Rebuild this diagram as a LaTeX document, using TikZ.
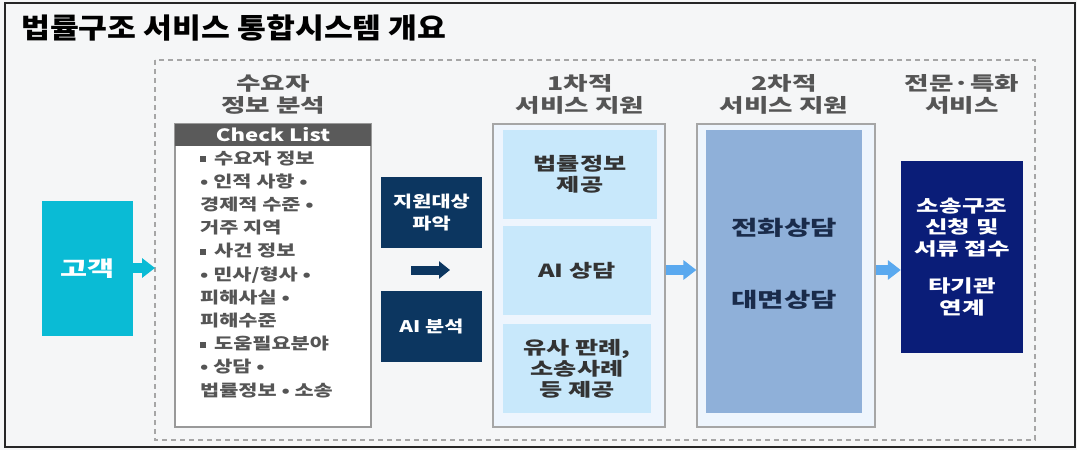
\documentclass[tikz,border=0pt]{standalone}
\usepackage{fontspec}
\setmainfont{Noto Sans CJK KR}
\newfontfamily\krt[FakeStretch=1.12]{Noto Sans CJK KR}
\newfontfamily\krw[FakeStretch=1.4]{Noto Sans CJK KR}
\newfontfamily\krc[FakeStretch=1.3]{Noto Sans CJK KR}
\usetikzlibrary{arrows.meta}
\definecolor{bg}{HTML}{F5F6F7}
\definecolor{cyanbox}{HTML}{0ABBD5}
\definecolor{hdrgray}{HTML}{5A5A5A}
\definecolor{txtgray}{HTML}{555555}
\definecolor{navybox}{HTML}{0C3660}
\definecolor{paleblue}{HTML}{EEF5FD}
\definecolor{innerblue}{HTML}{C8E8FB}
\definecolor{midblue}{HTML}{8FB0D9}
\definecolor{royal}{HTML}{0A1D78}
\definecolor{arrblue}{HTML}{5AA9EF}
\definecolor{darktxt}{HTML}{1A2B4A}
\newcommand{\sqb}{\raisebox{0.2ex}{\rule{6pt}{6pt}}\hspace{8pt}}
\tikzset{
  box/.style={draw=none, inner sep=0pt, align=center},
  header/.style={inner sep=0pt, align=center, text=txtgray, font=\krw\bfseries\fontsize{19}{22}\selectfont},
  innertxt/.style={text=black!80, font=\krw\bfseries\fontsize{18}{21}\selectfont},
  fatarrow/.style={line width=10pt, -{Triangle[length=13pt,width=19pt]}},
}
\begin{document}
\begin{tikzpicture}[x=1pt,y=-1pt]
\fill[bg] (0,0) rectangle (1077,450);
\useasboundingbox (0,0) rectangle (1077,450);
\draw[line width=1.5pt, black!85] (5,3) rectangle (1075,447);
% title
\node[anchor=west, inner sep=0pt, font=\krt\bfseries\fontsize{28}{32}\selectfont] (title) at (21,28) {법률구조 서비스 통합시스템 개요};
% dashed frame
\draw[dashed, dash pattern=on 5pt off 4pt, line width=1.2pt, black!35] (155,60) rectangle (1035,440);
% headers
\node[header] (h1) at (273,94) {수요자\\정보 분석};
\node[header] (h2) at (580,94) {1차적\\서비스 지원};
\node[header] (h3) at (784,94) {2차적\\서비스 지원};
\node[header] (h4) at (962,94) {전문·특화\\서비스};
% customer
\node[box, fill=cyanbox, minimum width=91pt, minimum height=135pt, text=white, font=\krw\bfseries\fontsize{21}{24}\selectfont] (cust) at (87.5,268.5) {고객};
\coordinate (dashL) at (155,268);
\draw[fatarrow, cyanbox] (cust.east |- dashL) -- (dashL);
% checklist
\node[box, draw=black!40, line width=1.2pt, fill=white, minimum width=196pt, minimum height=303pt] (chk) at (273,275.5) {};
\node[box, fill=hdrgray, minimum width=196pt, minimum height=22pt, text=white, font=\krc\bfseries\fontsize{17}{18}\selectfont] (chkh) at (273,135) {Check List};
\node[anchor=north west, inner sep=0pt, align=left, text=txtgray, font=\krc\bfseries\fontsize{16}{23.2}\selectfont] (chkt) at (200,150.5) {%
\sqb 수요자 정보\\
• 인적 사항 •\\
경제적 수준 •\\
거주 지역\\
\sqb 사건 정보\\
• 민사/형사 •\\
피해사실 •\\
피해수준\\
\sqb 도움필요분야\\
• 상담 •\\
법률정보 • 소송};
% navy boxes
\node[box, fill=navybox, minimum width=101pt, minimum height=71pt, text=white, font=\krc\bfseries\fontsize{16}{22}\selectfont] (target) at (431.5,212.5) {지원대상\\파악};
\node[box, fill=navybox, minimum width=101pt, minimum height=71pt, text=white, font=\krc\bfseries\fontsize{16}{22}\selectfont] (ai) at (431.5,326.5) {AI 분석};
\coordinate (na) at (411,270);
\coordinate (nb) at (450,270);
\draw[navybox, line width=9pt, -{Triangle[length=11pt,width=17pt]}] (na) -- (nb);
% first-level support
\node[box, draw=black!35, line width=1.2pt, fill=paleblue, minimum width=172pt, minimum height=303pt] (s1) at (579,275.5) {};
\node[box, fill=innerblue, minimum width=154pt, minimum height=89pt, innertxt] (s1a) at (580,174.5) {법률정보\\제공};
\node[box, fill=innerblue, minimum width=148pt, minimum height=89pt, innertxt] (s1b) at (577,270.5) {AI 상담};
\node[box, fill=innerblue, minimum width=148pt, minimum height=89pt, innertxt] (s1c) at (577,368.5) {유사 판례,\\소송사례\\등 제공};
% second-level support
\node[box, draw=black!35, line width=1.2pt, fill=paleblue, minimum width=178pt, minimum height=303pt] (s2) at (786,275.5) {};
\node[box, fill=midblue, minimum width=156pt, minimum height=283pt] (s2i) at (784,271.5) {};
\node[inner sep=0pt, text=darktxt, font=\krw\bfseries\fontsize{20.5}{24}\selectfont] (phone) at (784,228) {전화상담};
\node[inner sep=0pt, text=darktxt, font=\krw\bfseries\fontsize{20.5}{24}\selectfont] (face) at (784,300) {대면상담};
% specialised
\node[box, fill=royal, minimum width=122pt, minimum height=192pt, text=white, font=\krw\bfseries\fontsize{17.5}{21.5}\selectfont] (sp) at (962,257) {소송구조\\신청 및\\서류 접수\\[16pt]타기관\\연계};
% blue arrows
\coordinate (ay) at (0,270);
\draw[fatarrow, arrblue] (s1.east |- ay) -- (s2.west |- ay);
\draw[fatarrow, arrblue] (s2.east |- ay) -- (sp.west |- ay);
\end{tikzpicture}
\end{document}
